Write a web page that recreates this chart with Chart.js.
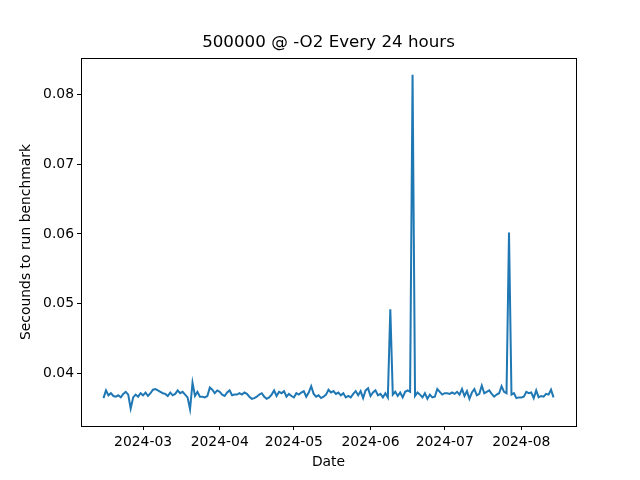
<!DOCTYPE html>
<html>
<head>
<meta charset="utf-8">
<script src="https://cdn.jsdelivr.net/npm/chart.js@4"></script>
<style>
  html, body { margin: 0; padding: 0; background: #fff; }
  #wrap { width: 640px; height: 480px; }
</style>
</head>
<body>
<div id="wrap"><canvas id="mainGraph" width="640" height="480"></canvas></div>
<script>
// first day of the run, one value per day after it
const startDay = '2024-02-14';

const seconds = [
  0.0365, 0.0376, 0.0369, 0.0372, 0.0368, 0.0367, 0.0369, 0.0366, 0.0371, 0.0374,
  0.0370, 0.0350, 0.0366, 0.0370, 0.0367, 0.0372, 0.0369, 0.0373, 0.0368, 0.0372,
  0.0377, 0.0378, 0.0376, 0.0374, 0.0372, 0.0371, 0.0368, 0.0373, 0.0369, 0.0371,
  0.0376, 0.0372, 0.0374, 0.0370, 0.0366, 0.0349, 0.0387, 0.0368, 0.0374, 0.0367,
  0.0367, 0.0366, 0.0368, 0.0380, 0.0377, 0.0372, 0.0376, 0.0374, 0.0370, 0.0368,
  0.0373, 0.0376, 0.0369, 0.0370, 0.0370, 0.0372, 0.0370, 0.0373, 0.0371, 0.0367,
  0.0364, 0.0365, 0.0367, 0.0370, 0.0372, 0.0367, 0.0364, 0.0366, 0.0370, 0.0376,
  0.0368, 0.0374, 0.0372, 0.0375, 0.0367, 0.0371, 0.0368, 0.0366, 0.0372, 0.0370,
  0.0373, 0.0375, 0.0367, 0.0373, 0.0382, 0.0371, 0.0367, 0.0369, 0.0365, 0.0367,
  0.0370, 0.0377, 0.0373, 0.0375, 0.0371, 0.0373, 0.0369, 0.0372, 0.0366, 0.0368,
  0.0366, 0.0371, 0.0375, 0.0369, 0.0375, 0.0365, 0.0376, 0.0379, 0.0368, 0.0373,
  0.0376, 0.0369, 0.0371, 0.0366, 0.0372, 0.0366, 0.0492, 0.0370, 0.0374, 0.0368,
  0.0373, 0.0366, 0.0374, 0.0376, 0.0374, 0.0828, 0.0368, 0.0373, 0.0370, 0.0366,
  0.0372, 0.0364, 0.0370, 0.0366, 0.0367, 0.0378, 0.0374, 0.0370, 0.0372, 0.0372,
  0.0371, 0.0373, 0.0371, 0.0374, 0.0370, 0.0378, 0.0368, 0.0375, 0.0364, 0.0373,
  0.0378, 0.0369, 0.0371, 0.0383, 0.0372, 0.0374, 0.0376, 0.0371, 0.0367, 0.0370,
  0.0372, 0.0382, 0.0374, 0.0372, 0.0602, 0.0370, 0.0372, 0.0365, 0.0366, 0.0366,
  0.0367, 0.0374, 0.0372, 0.0373, 0.0365, 0.0376, 0.0366, 0.0368, 0.0367, 0.0371,
  0.0370, 0.0377, 0.0366
];

const xTickLabels = ['2024-03', '2024-04', '2024-05', '2024-06', '2024-07', '2024-08'];
const yTickValues = [0.04, 0.05, 0.06, 0.07, 0.08];

const DAY = 86400000;
const t0 = Date.parse(startDay + 'T00:00:00Z');
const points = seconds.map((v, i) => ({x: t0 + i * DAY, y: v}));
const xTicks = xTickLabels.map(s => Date.parse(s + '-01T00:00:00Z'));

// matplotlib style 5% margins around the data
const xLo = points[0].x, xHi = points[points.length - 1].x;
const yLo = Math.min(...seconds), yHi = Math.max(...seconds);
const xPad = (xHi - xLo) * 0.05, yPad = (yHi - yLo) * 0.05;

const FONT = 'DejaVu Sans';

// box round the plot plus the title above it
const frame = {
  id: 'frame',
  afterDraw(chart) {
    const a = chart.chartArea, c = chart.ctx;
    c.save();
    c.strokeStyle = '#000';
    c.lineWidth = 1;
    c.strokeRect(Math.round(a.left) + 0.5, Math.round(a.top) + 0.5,
                 Math.round(a.right - a.left), Math.round(a.bottom - a.top));
    c.fillStyle = '#000';
    c.font = '16.7px "' + FONT + '"';
    c.textAlign = 'center';
    c.textBaseline = 'middle';
    c.fillText('500000 @ -O2 Every 24 hours', (a.left + a.right) / 2, 43);
    c.restore();
  }
};

var ctx = document.getElementById('mainGraph').getContext('2d');

var chart = new Chart(ctx, {
  type: 'line',
  data: {
    datasets: [{
      label: 'seconds',
      data: points,
      borderColor: '#1f77b4',
      borderWidth: 2,
      pointRadius: 0,
      tension: 0,
      fill: false
    }]
  },
  options: {
    responsive: false,
    animation: false,
    layout: {padding: {left: 0, right: 64, top: 58, bottom: 0}},
    plugins: {legend: {display: false}, tooltip: {enabled: false}, title: {display: false}},
    scales: {
      x: {
        type: 'linear',
        min: xLo - xPad,
        max: xHi + xPad,
        afterBuildTicks: s => { s.ticks = xTicks.map(v => ({value: v})); },
        afterFit: s => { s.height = 54; },
        grid: {drawOnChartArea: false, drawTicks: true, tickLength: 4, color: '#000'},
        border: {display: true, color: '#000'},
        ticks: {
          color: '#000', padding: 4, maxRotation: 0, autoSkip: false,
          font: {family: FONT, size: 13.9},
          callback: v => xTickLabels[xTicks.indexOf(v)]
        },
        title: {display: true, text: 'Date', color: '#000',
                font: {family: FONT, size: 13.9}, padding: {top: 9, bottom: 9}}
      },
      y: {
        type: 'linear',
        min: yLo - yPad,
        max: yHi + yPad,
        afterBuildTicks: s => { s.ticks = yTickValues.map(v => ({value: v})); },
        afterFit: s => { s.width = 81; },
        grid: {drawOnChartArea: false, drawTicks: true, tickLength: 4, color: '#000'},
        border: {display: true, color: '#000'},
        ticks: {
          color: '#000', padding: 3,
          font: {family: FONT, size: 13.9},
          callback: v => v.toFixed(2)
        },
        title: {display: true, text: 'Secounds to run benchmark', color: '#000',
                font: {family: FONT, size: 13.9}, padding: {top: 18, bottom: 0}}
      }
    }
  },
  plugins: [frame]
});
</script>
</body>
</html>
